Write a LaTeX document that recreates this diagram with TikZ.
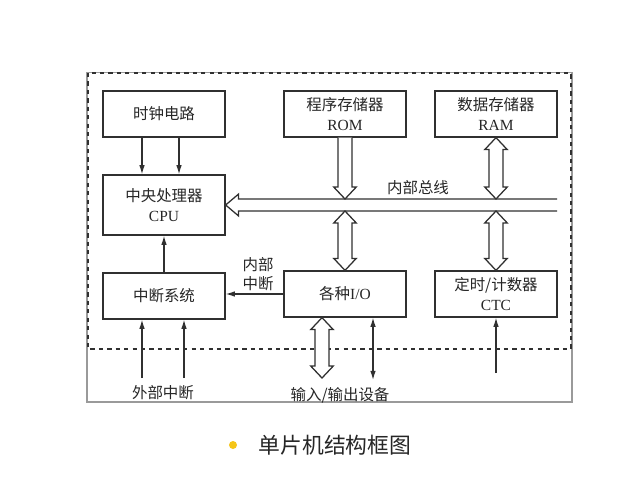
\documentclass[tikz,border=0pt]{standalone}
\usepackage{fontspec}
\setmainfont{Liberation Serif}
\newfontfamily\cjk{Noto Sans CJK SC}
\usetikzlibrary{calc,positioning,arrows.meta}

\definecolor{linegray}{HTML}{303030}
\definecolor{framegray}{HTML}{9A9A9A}
\definecolor{dotyellow}{HTML}{F5C518}

% hollow bus arrow, heads at both ends (#1 upper end, #2 lower end)
\newcommand{\wideboth}[2]{%
  \draw[wide] let \p1=(#1), \p2=(#2) in
    (\x1-5pt,\y1-8.5pt) -- (\x1-8pt,\y1-8.5pt) -- (\x1,\y1) -- (\x1+8pt,\y1-8.5pt)
    -- (\x1+5pt,\y1-8.5pt) -- (\x1+5pt,\y2+8.5pt) -- (\x1+8pt,\y2+8.5pt) -- (\x1,\y2)
    -- (\x1-8pt,\y2+8.5pt) -- (\x1-5pt,\y2+8.5pt) -- cycle;}
% hollow bus arrow, head at the lower end only
\newcommand{\widedown}[2]{%
  \draw[wide] let \p1=(#1), \p2=(#2) in
    (\x1-5pt,\y1) -- (\x1-5pt,\y2+8.5pt) -- (\x1-8pt,\y2+8.5pt) -- (\x1,\y2)
    -- (\x1+8pt,\y2+8.5pt) -- (\x1+5pt,\y2+8.5pt) -- (\x1+5pt,\y1);}

\begin{document}
\begin{tikzpicture}[x=0.025cm, y=-0.025cm,
  box/.style={draw=linegray, line width=0.9pt, minimum width=3.05cm, minimum height=1.15cm, align=center, inner sep=1pt, text=black!85, font=\fontsize{11}{14}\selectfont},
  lbl/.style={align=center, inner sep=1pt, text=black!85, font=\fontsize{11}{14}\selectfont\cjk},
  arrow/.style={-{Latex[length=2.3mm,width=1.4mm]}, line width=0.9pt, draw=linegray},
  wide/.style={line width=0.9pt, draw=linegray, fill=white}
]
\useasboundingbox (0,0) rectangle (640,480);

% frame
\draw[framegray, line width=0.8pt] (87,73) rectangle (572,402);
\draw[linegray, line width=1pt, dashed, fill=white] (88,73) rectangle (571,349);

\node[box] (clk) at (164,114) {\cjk 时钟电路};
\node[box] (rom) at (345,114) {{\cjk 程序存储器}\\ROM};
\node[box] (ram) at (496,114) {{\cjk 数据存储器}\\RAM};
\node[box, minimum height=1.5cm] (cpu) at (164,205) {{\cjk 中央处理器}\\CPU};
\node[box] (irq) at (164,296) {\cjk 中断系统};
\node[box] (io) at (345,294) {{\cjk 各种}I/O};
\node[box] (ctc) at (496,294) {{\cjk 定时/计数器}\\CTC};

\node[lbl] (busl) at (418,188) {内部总线};
\node[lbl, font=\fontsize{11}{13}\selectfont\cjk] (intl) at (258,274) {内部\\中断};
\node[lbl] (extl) at (163,393) {外部中断};
\node[lbl] (devl) at (340,395) {输入/输出设备};

\coordinate (busup) at (0,199);
\coordinate (busdn) at (0,211);
\coordinate (busend) at (557,205);
\coordinate (extin) at (0,378);
\coordinate (devport) at (322,378);
\coordinate (devline) at (0,380);
\coordinate (ctcin) at (0,373);

% internal bus
\draw[wide] let \p1=(cpu.east), \p2=(busend) in
  (\x2,\y1+4.3pt) -- (\x1+9.2pt,\y1+4.3pt) -- (\x1+9.2pt,\y1+7.8pt) -- (\x1,\y1)
  -- (\x1+9.2pt,\y1-7.8pt) -- (\x1+9.2pt,\y1-4.3pt) -- (\x2,\y1-4.3pt);

\widedown{rom.south}{rom.south |- busup}
\wideboth{ram.south}{ram.south |- busup}
\wideboth{io.north |- busdn}{io.north}
\wideboth{ctc.north |- busdn}{ctc.north}
\wideboth{io.south -| devport}{devport}

\draw[arrow] ([xshift=-0.55cm]clk.south) -- ([xshift=-0.55cm]clk.south |- cpu.north);
\draw[arrow] ([xshift=0.375cm]clk.south) -- ([xshift=0.375cm]clk.south |- cpu.north);
\draw[arrow] (irq.north) -- (cpu.south);
\draw[arrow] ([xshift=-0.55cm]irq.south |- extin) -- ([xshift=-0.55cm]irq.south);
\draw[arrow] ([xshift=0.5cm]irq.south |- extin) -- ([xshift=0.5cm]irq.south);
\draw[arrow] (io.west) -- (io.west -| irq.east);
\draw[arrow, {Latex[length=2.3mm,width=1.4mm]}-{Latex[length=2.3mm,width=1.4mm]}] ([xshift=0.7cm]io.south) -- ([xshift=0.7cm]io.south |- devline);
\draw[arrow] (ctc.south |- ctcin) -- (ctc.south);

% caption
\fill[dotyellow] (233,445) circle (0.1cm);
\node[inner sep=0pt, text=black!85, font=\fontsize{15.5}{18}\selectfont\cjk] (title) at (335,445) {单片机结构框图};
\end{tikzpicture}
\end{document}
